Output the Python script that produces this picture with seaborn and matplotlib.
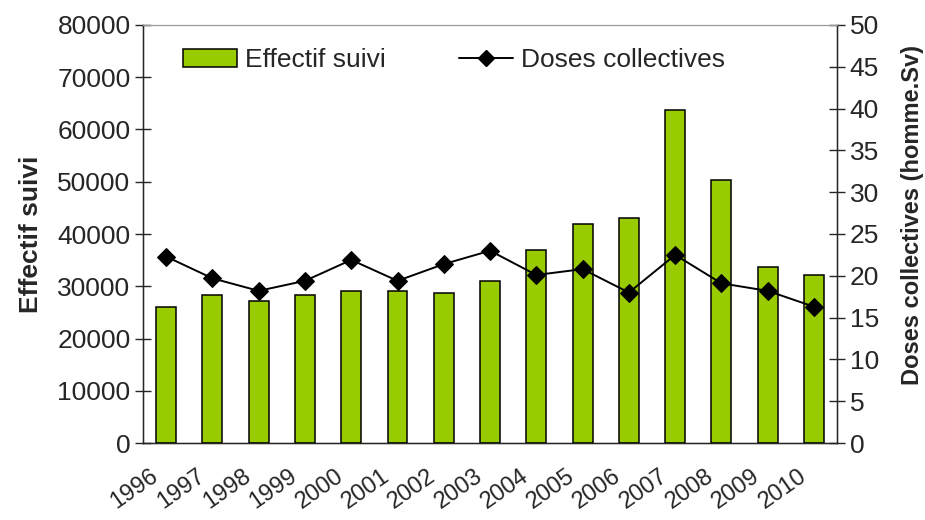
import numpy as np
import pandas as pd
import matplotlib
matplotlib.use('Agg')
import matplotlib.pyplot as plt
import matplotlib.transforms as mtransforms
import seaborn as sns
from matplotlib.lines import Line2D
from matplotlib.patches import Patch

years = ['1996', '1997', '1998', '1999', '2000', '2001', '2002', '2003',
         '2004', '2005', '2006', '2007', '2008', '2009', '2010']
effectif = [26100, 28300, 27200, 28300, 29100, 29100, 28700, 31100,
            36900, 41900, 43000, 63700, 50300, 33700, 32200]
doses = [22.3, 19.7, 18.2, 19.4, 21.9, 19.4, 21.4, 23.0,
         20.1, 20.8, 18.0, 22.5, 19.1, 18.2, 16.3]

df = pd.DataFrame({'annee': years, 'effectif': effectif, 'doses': doses})
df['pos'] = np.arange(len(years))

sns.set_style('white')
plt.rcParams['font.family'] = ['Liberation Sans', 'DejaVu Sans']

fig = plt.figure(figsize=(9.25, 5.2), dpi=100)
ax = fig.add_axes([0.1546, 0.148, 0.7504, 0.804])

sns.barplot(data=df, x='annee', y='effectif', color='#99CC00', width=0.43,
            edgecolor='black', linewidth=1.1, saturation=1, ax=ax)
ax.set_xlim(-0.5, len(years) - 0.5)
ax.set_ylim(0, 80000)
ax.set_yticks(np.arange(0, 80001, 10000))
ax.tick_params(axis='y', direction='inout', length=12, width=1, labelsize=19, pad=3)
ax.set_ylabel('Effectif suivi', fontsize=19, fontweight='bold', labelpad=10)
ax.set_xlabel('')

# ticks between categories, labels shifted left
ax.set_xticks(np.arange(len(years)))
ax.set_xticks(np.arange(-0.5, len(years), 1), minor=True)
ax.tick_params(axis='x', which='major', length=0, labelsize=17, pad=22)
ax.tick_params(axis='x', which='minor', direction='inout', length=12, width=1)
offset = mtransforms.ScaledTranslation(-0.1, 0, fig.dpi_scale_trans)
for lbl in ax.get_xticklabels():
    lbl.set_rotation(35)
    lbl.set_ha('right')
    lbl.set_va('center')
    lbl.set_rotation_mode('anchor')
    lbl.set_transform(lbl.get_transform() + offset)

for s in ['left', 'bottom', 'right']:
    ax.spines[s].set_color('black')
    ax.spines[s].set_linewidth(1)
ax.spines['top'].set_color('#999999')

ax2 = ax.twinx()
sns.lineplot(data=df, x='pos', y='doses', color='black', linewidth=1.4,
             marker='D', markersize=9.5, markeredgecolor='black', ax=ax2)
ax2.set_xlim(-0.5, len(years) - 0.5)
ax2.set_ylim(0, 50)
ax2.set_yticks(np.arange(0, 51, 5))
ax2.tick_params(axis='y', direction='inout', length=12, width=1, labelsize=19, pad=3)
ax2.set_ylabel('Doses collectives (homme.Sv)', fontsize=17, fontweight='bold')
ax2.yaxis.set_label_coords(1.092, 0.545)
ax2.spines['top'].set_color('#999999')

handles = [Patch(facecolor='#99CC00', edgecolor='black', linewidth=1.1),
           Line2D([], [], color='black', linewidth=1.4, marker='D', markersize=8)]
ax.legend(handles, ['Effectif suivi', 'Doses collectives'], loc='center left',
          bbox_to_anchor=(0.058, 0.916), ncol=2, frameon=False, fontsize=19,
          handlelength=2.05, handleheight=0.7, columnspacing=2.76, handletextpad=0.3,
          borderpad=0, borderaxespad=0)

fig.savefig('out.png', dpi=100)
